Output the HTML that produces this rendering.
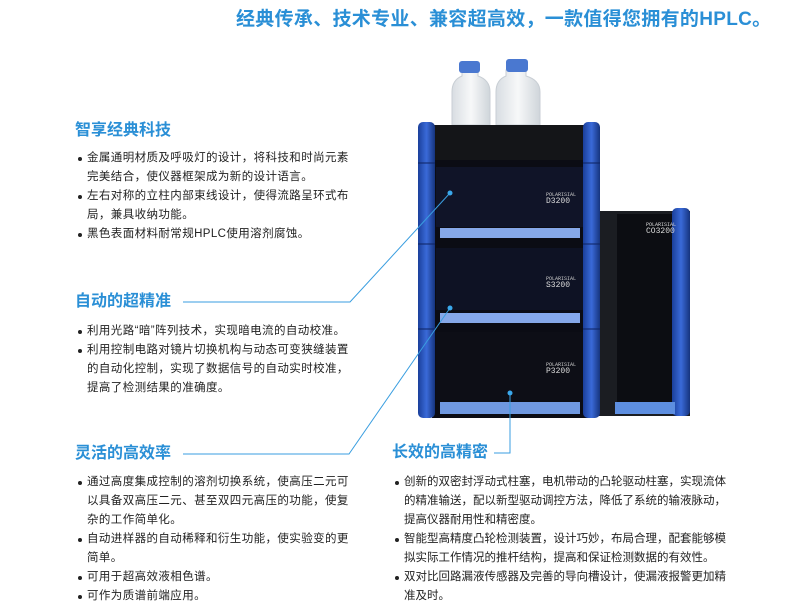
<!DOCTYPE html>
<html><head><meta charset="utf-8"><style>
*{margin:0;padding:0;box-sizing:border-box}
body{width:800px;height:611px;background:#fff;position:relative;overflow:hidden;font-family:"Liberation Sans","Noto Sans CJK SC",sans-serif;color:#222}
.a{position:absolute}
.t{left:236px;top:4px;font-size:19px;font-weight:bold;color:#2a8fd6;white-space:nowrap;letter-spacing:0.3px}
.h{position:absolute;font-size:16px;font-weight:bold;color:#2a8fd6;white-space:nowrap;line-height:20px}
.l{position:absolute;font-size:11.5px;line-height:19px;color:#222;letter-spacing:0.4px}
.l p{position:relative;padding-left:9px}
.l p:before{content:"";position:absolute;left:0;top:8px;width:4px;height:4px;border-radius:50%;background:#222}
.r{letter-spacing:0}
</style></head><body>
<div class="a t">经典传承、技术专业、兼容超高效，一款值得您拥有的HPLC。</div>

<svg class="a" style="left:0;top:0" width="800" height="611">
<defs>
<linearGradient id="pl" x1="0" x2="1"><stop offset="0" stop-color="#1a3f9a"/><stop offset="0.5" stop-color="#3a6ad8"/><stop offset="1" stop-color="#16347e"/></linearGradient>
<linearGradient id="bt" x1="0" x2="1"><stop offset="0" stop-color="#d8dde2"/><stop offset="0.5" stop-color="#f7f8f9"/><stop offset="1" stop-color="#cfd5da"/></linearGradient>
</defs>
<!-- bottles -->
<path d="M452,125 L452,92 Q452,80 462,76 L462,70 L478,70 L478,76 Q490,80 490,92 L490,125 Z" fill="url(#bt)" stroke="#c8ced4"/>
<rect x="459" y="61" width="21" height="12" rx="3" fill="#4a78d0"/>
<path d="M496,125 L496,92 Q496,80 506,76 L506,70 L526,70 L526,76 Q540,80 540,92 L540,125 Z" fill="url(#bt)" stroke="#c8ced4"/>
<rect x="506" y="59" width="22" height="13" rx="3" fill="#4a78d0"/>
<!-- column oven -->
<rect x="598" y="211" width="92" height="205" fill="#1b1d22"/>
<rect x="617" y="214" width="56" height="190" fill="#0c0d12"/>
<rect x="672" y="208" width="18" height="208" rx="5" fill="url(#pl)"/>
<rect x="615" y="402" width="60" height="12" fill="#5d8ee0"/>
<text x="646" y="226" font-size="5" fill="#ddd" font-family="Liberation Mono">POLARISIAL</text>
<text x="646" y="233" font-size="8" fill="#ddd" font-family="Liberation Mono">CO3200</text>
<!-- main stack -->
<rect x="430" y="125" width="160" height="35" fill="#141518"/>
<rect x="432" y="160" width="156" height="258" fill="#0b0c14"/>
<rect x="436" y="167" width="148" height="60" fill="#101428"/>
<rect x="440" y="228" width="140" height="10" fill="#86a8e8"/>
<rect x="436" y="248" width="148" height="62" fill="#0e1224"/>
<rect x="440" y="313" width="140" height="10" fill="#86a8e8"/>
<rect x="436" y="332" width="148" height="68" fill="#0d0e16"/>
<rect x="440" y="402" width="140" height="12" fill="#6f98e0"/>
<text x="546" y="196" font-size="5" fill="#ccc" font-family="Liberation Mono">POLARISIAL</text>
<text x="546" y="203" font-size="8" fill="#ddd" font-family="Liberation Mono">D3200</text>
<text x="546" y="280" font-size="5" fill="#ccc" font-family="Liberation Mono">POLARISIAL</text>
<text x="546" y="287" font-size="8" fill="#ddd" font-family="Liberation Mono">S3200</text>
<text x="546" y="366" font-size="5" fill="#ccc" font-family="Liberation Mono">POLARISIAL</text>
<text x="546" y="373" font-size="8" fill="#ddd" font-family="Liberation Mono">P3200</text>
<rect x="418" y="122" width="17" height="296" rx="5" fill="url(#pl)"/>
<rect x="583" y="122" width="17" height="296" rx="5" fill="url(#pl)"/>
<line x1="418" y1="163" x2="435" y2="163" stroke="#0d2260"/><line x1="583" y1="163" x2="600" y2="163" stroke="#0d2260"/>
<line x1="418" y1="244" x2="435" y2="244" stroke="#0d2260"/><line x1="583" y1="244" x2="600" y2="244" stroke="#0d2260"/>
<line x1="418" y1="329" x2="435" y2="329" stroke="#0d2260"/><line x1="583" y1="329" x2="600" y2="329" stroke="#0d2260"/>
<!-- connectors -->
<g stroke="#3a9ee0" stroke-width="1" fill="none">
<polyline points="183,302 350,302 450,193"/>
<polyline points="183,454 349,454 450,308"/>
<polyline points="494,453 510,453 510,393"/>
</g>
<g fill="#3aa8ec"><circle cx="450" cy="193" r="2.5"/><circle cx="450" cy="308" r="2.5"/><circle cx="510" cy="393" r="2.5"/></g>
</svg>

<div class="h" style="left:75px;top:121px">智享经典科技</div>
<div class="l" style="left:78px;top:149px;width:276px">
<p>金属通明材质及呼吸灯的设计，将科技和时尚元素完美结合，使仪器框架成为新的设计语言。</p>
<p>左右对称的立柱内部束线设计，使得流路呈环式布局，兼具收纳功能。</p>
<p>黑色表面材料耐常规HPLC使用溶剂腐蚀。</p>
</div>

<div class="h" style="left:75px;top:292px">自动的超精准</div>
<div class="l" style="left:78px;top:322px;width:276px">
<p>利用光路“暗”阵列技术，实现暗电流的自动校准。</p>
<p>利用控制电路对镜片切换机构与动态可变狭缝装置的自动化控制，实现了数据信号的自动实时校准，提高了检测结果的准确度。</p>
</div>

<div class="h" style="left:75px;top:444px">灵活的高效率</div>
<div class="l" style="left:78px;top:473px;width:276px">
<p>通过高度集成控制的溶剂切换系统，使高压二元可以具备双高压二元、甚至双四元高压的功能，使复杂的工作简单化。</p>
<p>自动进样器的自动稀释和衍生功能，使实验变的更简单。</p>
<p>可用于超高效液相色谱。</p>
<p>可作为质谱前端应用。</p>
</div>

<div class="h" style="left:392px;top:443px">长效的高精密</div>
<div class="l r" style="left:395px;top:473px;width:334px">
<p>创新的双密封浮动式柱塞，电机带动的凸轮驱动柱塞，实现流体的精准输送，配以新型驱动调控方法，降低了系统的输液脉动，提高仪器耐用性和精密度。</p>
<p>智能型高精度凸轮检测装置，设计巧妙，布局合理，配套能够模拟实际工作情况的推杆结构，提高和保证检测数据的有效性。</p>
<p>双对比回路漏液传感器及完善的导向槽设计，使漏液报警更加精准及时。</p>
</div>
</body></html>
